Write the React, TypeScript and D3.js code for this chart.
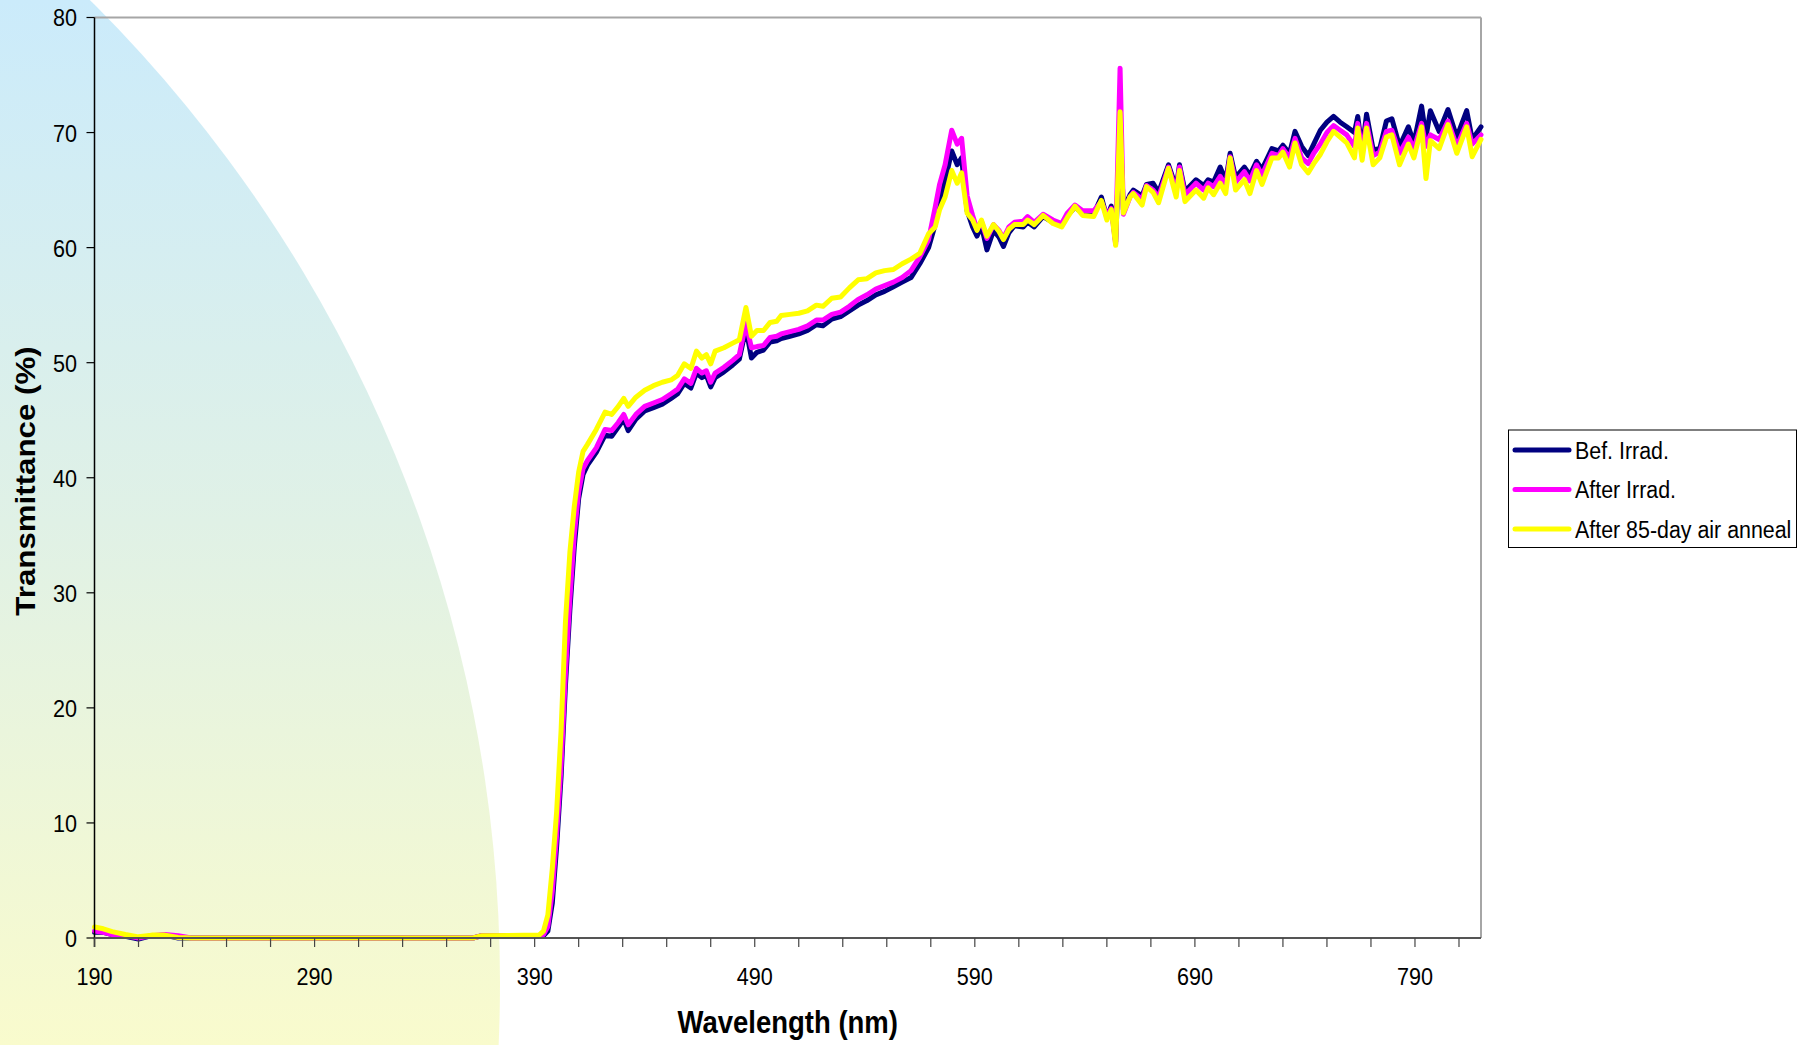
import * as d3 from "d3";

// wavelength (nm) sampling points, shared by the three spectra
const wavelength = [
  190, 194, 198, 204, 210, 216, 222, 228, 234, 362,
  366, 392, 394, 396, 398, 400, 402, 404, 406, 408,
  410, 412, 414, 418, 422, 425, 428, 430.5, 432.5, 436,
  440, 444, 448, 452, 455, 458, 461, 463.5, 466, 468,
  470, 472, 476, 480, 483, 486, 488.5, 491, 494, 497,
  500, 502, 506, 510, 514, 518, 521, 525, 529, 533,
  537, 541, 545, 549, 553, 557, 561, 565, 569, 572,
  574, 576.5, 579.5, 582, 584, 586.5, 589, 591, 593, 595.5,
  598.5, 601, 603, 605.5, 608, 612, 614, 617, 621, 625.5,
  629.5, 632, 635.5, 639, 644, 647.5, 650, 652, 654, 656,
  657.5, 660.5, 662, 666, 668, 671, 673.5, 678, 681.5, 683,
  685.5, 690.5, 694, 696, 698.5, 701.5, 704, 706, 708.5, 712.5,
  715, 718, 720.5, 725, 728, 730, 733, 735.5, 738.5, 741.5,
  744, 747, 750, 753, 756, 759, 762.5, 764, 766, 768, 771, 774, 777,
  779.5, 783, 787, 789.5, 793, 795, 797, 801, 805, 809,
  813.5, 816, 820,
];

const befIrrad = [
  0.5, 0.5, 0.3, 0.15, -0.1, 0.2, 0.25, 0.0, 0.0, 0.0,
  0.2, 0.2, 0.2, 0.6, 3, 8, 14, 22, 28.5, 34,
  38.2, 40.3, 41.1, 42.2, 43.7, 43.6, 44.4, 45.1, 44.1, 45.1,
  45.8, 46.1, 46.4, 46.9, 47.3, 48.2, 47.8, 49.1, 48.7, 48.9,
  47.9, 48.7, 49.2, 49.8, 50.3, 53.0, 50.4, 50.9, 51.1, 51.8,
  51.9, 52.1, 52.3, 52.5, 52.8, 53.3, 53.2, 53.8, 54.0, 54.5,
  55.0, 55.4, 55.9, 56.2, 56.6, 57.0, 57.4, 58.6, 60.0, 62.0,
  64.0, 65.8, 68.4, 67.2, 67.8, 63.2, 61.8, 61.0, 61.9, 59.8,
  61.5, 60.9, 60.1, 61.3, 61.9, 61.8, 62.2, 61.8, 62.7, 62.2,
  62.0, 62.8, 63.5, 63.0, 62.9, 64.4, 62.6, 63.6, 60.5, 70.5,
  63.3, 64.6, 65.0, 64.5, 65.5, 65.6, 64.8, 67.2, 65.2, 67.2,
  64.9, 65.9, 65.4, 65.9, 65.7, 67.0, 65.8, 68.2, 66.1, 67.0,
  66.3, 67.5, 66.8, 68.6, 68.4, 68.9, 68.2, 70.1, 68.8, 68.0,
  69.0, 70.2, 70.9, 71.4, 70.9, 70.5, 70.0, 71.4, 68.5, 71.6, 68.5, 68.6, 71.0,
  71.2, 68.8, 70.5, 69.1, 72.3, 69.6, 71.9, 70.1, 72.0, 69.6,
  71.9, 69.4, 70.5,
];

const afterIrrad = [
  0.6, 0.5, 0.3, 0.2, 0.0, 0.2, 0.3, 0.2, 0.0, 0.0,
  0.2, 0.2, 0.3, 1, 4, 9, 15, 23, 29.5, 35,
  38.8, 40.8, 41.5, 42.6, 44.2, 44.1, 44.8, 45.5, 44.6, 45.5,
  46.2, 46.5, 46.8, 47.3, 47.7, 48.6, 48.2, 49.5, 49.1, 49.3,
  48.3, 49.1, 49.6, 50.2, 50.7, 53.4, 51.3, 51.4, 51.5, 52.2,
  52.3, 52.5, 52.7, 52.9, 53.2, 53.7, 53.7, 54.2, 54.4, 54.9,
  55.5, 55.9, 56.4, 56.7, 57.0, 57.4, 58.0, 59.2, 60.7, 63.5,
  65.5, 67.2, 70.2, 69.0, 69.5, 64.5, 62.8, 61.6, 62.3, 60.8,
  62.0, 61.5, 60.8, 61.8, 62.2, 62.3, 62.7, 62.2, 62.9, 62.4,
  62.1, 63.0, 63.7, 63.2, 63.2, 64.0, 62.8, 63.4, 60.3, 75.6,
  62.9, 64.4, 64.8, 64.2, 65.4, 65.0, 64.4, 67.0, 64.9, 67.0,
  64.6, 65.6, 65.0, 65.6, 65.3, 66.2, 65.4, 67.9, 65.7, 66.6,
  65.8, 67.2, 66.3, 68.2, 68.0, 68.6, 67.8, 69.5, 67.8, 67.3,
  68.2, 69.0, 70.0, 70.6, 70.2, 69.8, 68.8, 70.8, 68.4, 70.8, 68.0, 68.3, 70.1,
  70.2, 68.2, 69.6, 68.6, 70.8, 68.8, 69.8, 69.4, 71.0, 68.8,
  70.8, 69.0, 69.8,
];

const afterAnneal = [
  0.95, 0.8, 0.55, 0.3, 0.1, 0.25, 0.25, 0.05, 0.0, 0.0,
  0.2, 0.25, 0.6, 2, 6, 11, 18, 27.5, 33.5, 37.5,
  40.5, 42.3, 42.9, 44.2, 45.7, 45.5, 46.2, 46.9, 46.2, 47.0,
  47.6, 48.0, 48.3, 48.5, 48.9, 49.9, 49.5, 51.0, 50.4, 50.7,
  49.9, 51.0, 51.3, 51.7, 52.0, 54.8, 52.3, 52.8, 52.8, 53.5,
  53.6, 54.1, 54.2, 54.3, 54.5, 55.0, 54.9, 55.6, 55.7, 56.5,
  57.2, 57.3, 57.8, 58.0, 58.1, 58.6, 59.0, 59.5, 61.2, 61.8,
  63.3, 64.4, 66.7, 65.6, 66.5, 63.0, 62.4, 61.5, 62.4, 61.0,
  62.0, 61.4, 60.7, 61.6, 62.0, 62.0, 62.4, 62.0, 62.8, 62.1,
  61.8, 62.6, 63.6, 62.8, 62.7, 64.1, 62.4, 63.3, 60.2, 71.8,
  63.0, 64.4, 64.7, 63.7, 65.3, 64.8, 63.9, 66.9, 64.4, 66.7,
  64.0, 65.0, 64.3, 65.2, 64.6, 65.6, 64.7, 67.8, 65.0, 65.9,
  64.7, 66.7, 65.5, 67.8, 67.8, 68.3, 67.0, 69.1, 67.2, 66.5,
  67.3, 68.1, 69.2, 70.1, 69.6, 69.1, 67.8, 70.4, 67.6, 70.4, 67.2, 67.8, 69.6,
  69.8, 67.2, 69.0, 67.8, 70.5, 66.0, 69.3, 68.6, 70.7, 68.2,
  70.5, 67.9, 69.4,
];

const seriesNames = ["Bef. Irrad.", "After Irrad.", "After 85-day air anneal"];
const seriesColors = ["#000080", "#ff00ff", "#ffff00"];
const yTicks = [0, 10, 20, 30, 40, 50, 60, 70, 80];
const xLabels = [190, 290, 390, 490, 590, 690, 790];

const W = 1807;
const H = 1045;
const left = 94.5;
const right = 1481;
const top = 17.5;
const bottom = 938;
const stretch = 1.15; // text in the picture is a little taller than wide
const font = "'Liberation Sans', Arial, sans-serif";

export default function App() {
  const x = d3.scaleLinear().domain([190, 820]).range([left, right]);
  const y = d3.scaleLinear().domain([0, 80]).range([bottom, top]);

  const line = d3
    .line<number>()
    .x((_, i) => x(wavelength[i]))
    .y((d) => y(d));

  const allSeries = [befIrrad, afterIrrad, afterAnneal];
  const xTicks = d3.range(190, 821, 20);

  return (
    <svg
      width={W}
      height={H}
      style={{ position: "absolute", left: 0, top: 0, display: "block" }}
      fontFamily={font}
    >
      <defs>
        <linearGradient id="bg" x1="0" y1="0" x2="0" y2={H} gradientUnits="userSpaceOnUse">
          <stop offset="0" stopColor="#cbebfb" />
          <stop offset="0.5" stopColor="#e0f1e6" />
          <stop offset="1" stopColor="#f9fbcd" />
        </linearGradient>
      </defs>
      <rect width={W} height={H} fill="#ffffff" />
      <circle cx={-883} cy={983} r={1383} fill="url(#bg)" />

      {/* plot frame */}
      <line x1={left} x2={right} y1={top} y2={top} stroke="#a6a6a6" strokeWidth={2} />
      <line x1={right} x2={right} y1={top} y2={bottom} stroke="#a6a6a6" strokeWidth={2} />

      {/* series */}
      {allSeries.map((s, i) => (
        <path
          key={seriesNames[i]}
          d={line(s) ?? ""}
          fill="none"
          stroke={seriesColors[i]}
          strokeWidth={5}
          strokeLinejoin="round"
          strokeLinecap="round"
        />
      ))}

      {/* y axis */}
      <line x1={left} x2={left} y1={top} y2={bottom + 9} stroke="#000" strokeWidth={1.5} />
      {yTicks.map((t) => (
        <g key={t}>
          <line x1={left - 8} x2={left} y1={y(t)} y2={y(t)} stroke="#000" strokeWidth={1.2} />
          <g transform={`translate(77,${y(t)}) scale(1,${stretch})`}>
            <text textAnchor="end" dy="0.36em" fontSize={21.6} fill="#000">
              {t}
            </text>
          </g>
        </g>
      ))}

      {/* x axis */}
      <line x1={left} x2={right} y1={bottom} y2={bottom} stroke="#555" strokeWidth={2} />
      {xTicks.map((t) => (
        <line key={t} x1={x(t)} x2={x(t)} y1={bottom} y2={bottom + 9} stroke="#444" strokeWidth={1.2} />
      ))}
      {xLabels.map((t) => (
        <g key={t} transform={`translate(${x(t)},976.5) scale(1,${stretch})`}>
          <text textAnchor="middle" dy="0.36em" fontSize={21.6} fill="#000">
            {t}
          </text>
        </g>
      ))}

      {/* axis titles */}
      <g transform={`translate(${(left + right) / 2},1022) scale(1,${stretch})`}>
        <text textAnchor="middle" dy="0.36em" fontSize={27.5} fontWeight="bold">
          Wavelength (nm)
        </text>
      </g>
      <g transform={`translate(25,481) scale(1,${stretch}) rotate(-90)`}>
        <text textAnchor="middle" dy="0.36em" fontSize={27.2} fontWeight="bold">
          Transmittance (%)
        </text>
      </g>

      {/* legend */}
      <rect x={1508.5} y={430} width={288} height={117.5} fill="#fff" stroke="#000" strokeWidth={1} />
      {seriesNames.map((name, i) => {
        const cy = 450 + i * 39.5;
        return (
          <g key={name}>
            <line x1={1515} x2={1569} y1={cy} y2={cy} stroke={seriesColors[i]} strokeWidth={5} strokeLinecap="round" />
            <g transform={`translate(1575,${cy}) scale(1,${stretch})`}>
              <text dy="0.36em" fontSize={21.4} fill="#000">
                {name}
              </text>
            </g>
          </g>
        );
      })}
    </svg>
  );
}
